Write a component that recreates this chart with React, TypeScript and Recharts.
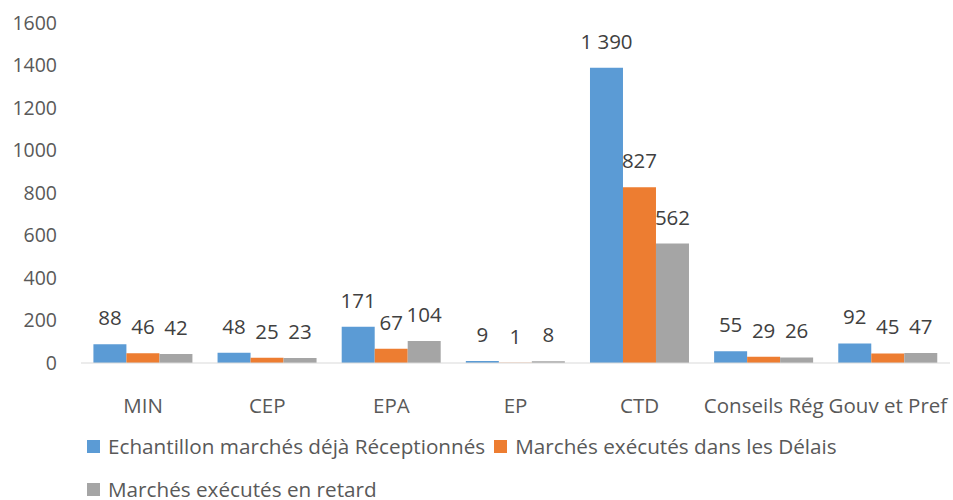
import { BarChart, Bar, XAxis, YAxis, LabelList, Legend } from "recharts";

const categories = ["MIN", "CEP", "EPA", "EP", "CTD", "Conseils Rég", "Gouv et Pref"];
const receptionnes = [88, 48, 171, 9, 1390, 55, 92];
const dansDelais = [46, 25, 67, 1, 827, 29, 45];
const enRetard = [42, 23, 104, 8, 562, 26, 47];
const yTicks = [0, 200, 400, 600, 800, 1000, 1200, 1400, 1600];

const series = [
  { key: "receptionnes", name: "Echantillon marchés déjà Réceptionnés", color: "#5B9BD5" },
  { key: "dansDelais", name: "Marchés exécutés dans les Délais", color: "#ED7D31" },
  { key: "enRetard", name: "Marchés exécutés en retard", color: "#A5A5A5" },
];

const data = categories.map((name, i) => ({
  name,
  receptionnes: receptionnes[i],
  dansDelais: dansDelais[i],
  enRetard: enRetard[i],
}));

const FONT = "'Open Sans', sans-serif";
const TEXT = "#595959";

// thousands separator as a non-breaking space so the label stays on one line
const fmt = (v: any) => String(v).replace(/\B(?=(\d{3})+(?!\d))/g, "\u00A0");

function LegendBox() {
  return (
    <div style={{ display: "flex", flexWrap: "wrap", width: 810, marginLeft: 87, fontFamily: FONT, fontSize: 20.7, color: TEXT, rowGap: 17, paddingTop: 23 }}>
      {series.map((s) => (
        <div key={s.key} style={{ display: "flex", alignItems: "center", marginRight: 9, height: 26 }}>
          <span style={{ width: 13, height: 13, background: s.color, display: "inline-block", marginRight: 8 }} />
          <span>{s.name}</span>
        </div>
      ))}
    </div>
  );
}

export default function App() {
  return (
    <div style={{ position: "absolute", left: 0, top: 0, background: "#fff" }}>
      <BarChart
        width={953}
        height={500}
        data={data}
        margin={{ top: 23, right: 3, left: 0, bottom: 0 }}
        barGap={0}
        barCategoryGap="10%"
      >
        <XAxis
          dataKey="name"
          interval={0}
          tickLine={false}
          axisLine={{ stroke: "#D9D9D9" }}
          tick={{ fill: TEXT, fontSize: 20.5, fontFamily: FONT }}
          tickMargin={29}
          height={47}
        />
        <YAxis
          domain={[0, 1600]}
          ticks={yTicks}
          width={81}
          axisLine={false}
          tickLine={false}
          tickSize={0}
          tickMargin={24}
          tick={{ fill: TEXT, fontSize: 19.5, fontFamily: FONT }}
        />
        <Legend verticalAlign="bottom" content={() => <LegendBox />} wrapperStyle={{ height: 90 }} />
        {series.map((s) => (
          <Bar key={s.key} dataKey={s.key} name={s.name} fill={s.color} isAnimationActive={false}>
            <LabelList dataKey={s.key} position="top" offset={19} formatter={fmt} fill={"#404040"} fontSize={20.5} fontFamily={FONT} />
          </Bar>
        ))}
      </BarChart>
    </div>
  );
}
